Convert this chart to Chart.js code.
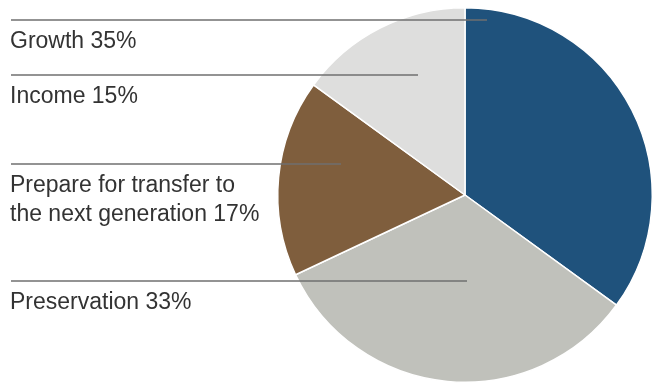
<!DOCTYPE html>
<html>
<head>
<meta charset="utf-8">
<script src="https://cdn.jsdelivr.net/npm/chart.js@4"></script>
<style>
  html, body { margin: 0; padding: 0; background: #ffffff; }
  #wrap { width: 659px; height: 383px; position: relative; }
</style>
</head>
<body>
<div id="wrap"><canvas id="chart"></canvas></div>
<script>
// Allocation shares, clockwise from 12 o'clock
const categories = ["Growth", "Preservation", "Prepare for transfer to the next generation", "Income"];
const shares = [35, 33, 17, 15];
const sliceColors = ["#1f527c", "#c0c1bb", "#7f5e3d", "#dededd"];

// Callout text lines for each slice (same order as categories)
const calloutText = [
  ["Growth 35%"],
  ["Preservation 33%"],
  ["Prepare for transfer to", "the next generation 17%"],
  ["Income 15%"]
];

// Callout placement: rule y and where the rule stops inside the slice
const calloutLayout = [
  { y: 20, xEnd: 487 },
  { y: 281, xEnd: 467 },
  { y: 164, xEnd: 341 },
  { y: 75, xEnd: 418 }
];

const calloutPlugin = {
  id: "callouts",
  afterDatasetsDraw(chart) {
    const ctx = chart.ctx;
    ctx.save();
    calloutLayout.forEach((c, i) => {
      ctx.beginPath();
      ctx.strokeStyle = "#6f6f6f";
      ctx.lineWidth = 1.5;
      ctx.moveTo(11, c.y);
      ctx.lineTo(c.xEnd, c.y);
      ctx.stroke();

      ctx.fillStyle = "#333333";
      ctx.font = "23px 'Liberation Sans', Arial, sans-serif";
      ctx.textBaseline = "alphabetic";
      ctx.textAlign = "left";
      calloutText[i].forEach((line, j) => {
        ctx.fillText(line, 10, c.y + 28 + j * 29);
      });
    });
    ctx.restore();
  }
};

new Chart(document.getElementById("chart"), {
  type: "pie",
  data: {
    labels: categories,
    datasets: [{
      data: shares,
      backgroundColor: sliceColors,
      borderColor: "#ffffff",
      borderWidth: 1.5
    }]
  },
  options: {
    responsive: true,
    maintainAspectRatio: false,
    animation: false,
    layout: { padding: { left: 277, right: 6, top: 7, bottom: 0 } },
    plugins: {
      legend: { display: false },
      tooltip: { enabled: false }
    }
  },
  plugins: [calloutPlugin]
});
</script>
</body>
</html>
